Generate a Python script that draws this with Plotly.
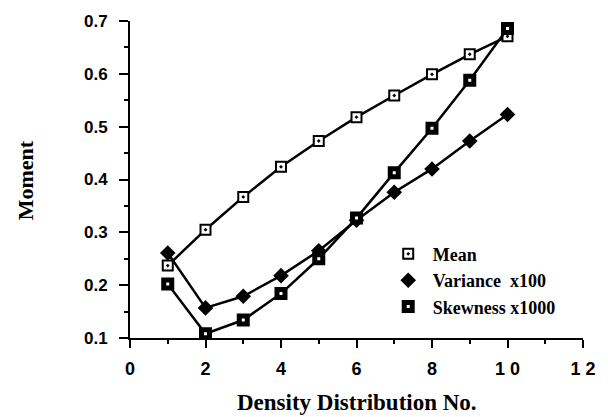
import plotly.graph_objects as go

x_vals = [1, 2, 3, 4, 5, 6, 7, 8, 9, 10]
mean_vals = [0.237, 0.305, 0.367, 0.424, 0.473, 0.518, 0.559, 0.599, 0.637, 0.671]
variance_vals = [0.261, 0.157, 0.179, 0.218, 0.265, 0.323, 0.376, 0.420, 0.473, 0.523]
skewness_vals = [0.202, 0.108, 0.134, 0.184, 0.250, 0.327, 0.413, 0.497, 0.588, 0.686]
legend_names = ["\u00a0Mean", "\u00a0Variance\u00a0\u00a0x100", "\u00a0Skewness\u00a0x1000"]
x_tickvals = [0, 2, 4, 6, 8, 10, 12]
x_ticktext = ["0", "2", "4", "6", "8", "1 0", "1 2"]
y_tickvals = [0.1, 0.2, 0.3, 0.4, 0.5, 0.6, 0.7]
y_ticktext = ["0.1", "0.2", "0.3", "0.4", "0.5", "0.6", "0.7"]

mean_marker = dict(symbol="square-dot", size=10, color="white", line=dict(color="black", width=2))
var_marker = dict(symbol="diamond", size=12, color="black", line=dict(color="black", width=0))
skew_marker = dict(symbol="square", size=8, color="white", line=dict(color="black", width=5))
line_style = dict(color="black", width=2.5)

fig = go.Figure()
fig.add_trace(go.Scatter(x=x_vals, y=mean_vals, mode="lines+markers", line=line_style,
                         marker=mean_marker, showlegend=False))
fig.add_trace(go.Scatter(x=x_vals, y=variance_vals, mode="lines+markers", line=line_style,
                         marker=var_marker, showlegend=False))
fig.add_trace(go.Scatter(x=x_vals, y=skewness_vals, mode="lines+markers", line=line_style,
                         marker=skew_marker, showlegend=False))

for name, mk, grp in zip(legend_names, [mean_marker, var_marker, skew_marker], ["a", "b", "c"]):
    fig.add_trace(go.Scatter(x=[None], y=[None], mode="markers", marker=mk, name=name,
                             legendgroup=grp, showlegend=True))

x_tick_font = dict(family="Liberation Sans", size=18, color="black", weight="bold")
y_tick_font = dict(family="Liberation Sans", size=17, color="black", weight="bold")
x_title_font = dict(family="Liberation Serif", size=23, color="black", weight="bold")
y_title_font = dict(family="Liberation Serif", size=22, color="black", weight="bold")

fig.update_layout(
    width=608, height=417,
    margin=dict(l=130, r=21, t=21, b=79),
    paper_bgcolor="white", plot_bgcolor="white",
    showlegend=True,
    legend=dict(x=0.57, y=0.181, xanchor="left", yanchor="middle",
                font=dict(family="Liberation Serif", size=18, color="black", weight="bold"),
                bgcolor="rgba(0,0,0,0)", itemwidth=30, tracegroupgap=0,
                traceorder="grouped"),
    xaxis=dict(range=[0, 12], tickvals=x_tickvals, ticktext=x_ticktext,
               showgrid=False, zeroline=False, showline=True, linecolor="black", linewidth=2,
               ticks="outside", ticklen=8, tickwidth=2, tickcolor="black",
               tickfont=x_tick_font, ticklabelstandoff=5,
               minor=dict(dtick=1, tick0=0, ticks="outside", ticklen=4, tickwidth=2, tickcolor="black", showgrid=False)),
    yaxis=dict(range=[0.1, 0.7], tickvals=y_tickvals, ticktext=y_ticktext,
               showgrid=False, zeroline=False, showline=True, linecolor="black", linewidth=2,
               ticks="outside", ticklen=9, tickwidth=2, tickcolor="black",
               tickfont=y_tick_font, ticklabelstandoff=8,
               minor=dict(dtick=0.05, tick0=0.1, ticks="outside", ticklen=4, tickwidth=2, tickcolor="black", showgrid=False)),
    annotations=[
        dict(text="Density Distribution No.", xref="paper", yref="paper", x=0.5, y=-0.202,
             xanchor="center", yanchor="middle", showarrow=False, font=x_title_font),
        dict(text="Moment", xref="paper", yref="paper", x=-0.23, y=0.497, textangle=-90,
             xanchor="center", yanchor="middle", showarrow=False, font=y_title_font),
    ],
)

fig.write_html("out.html")
